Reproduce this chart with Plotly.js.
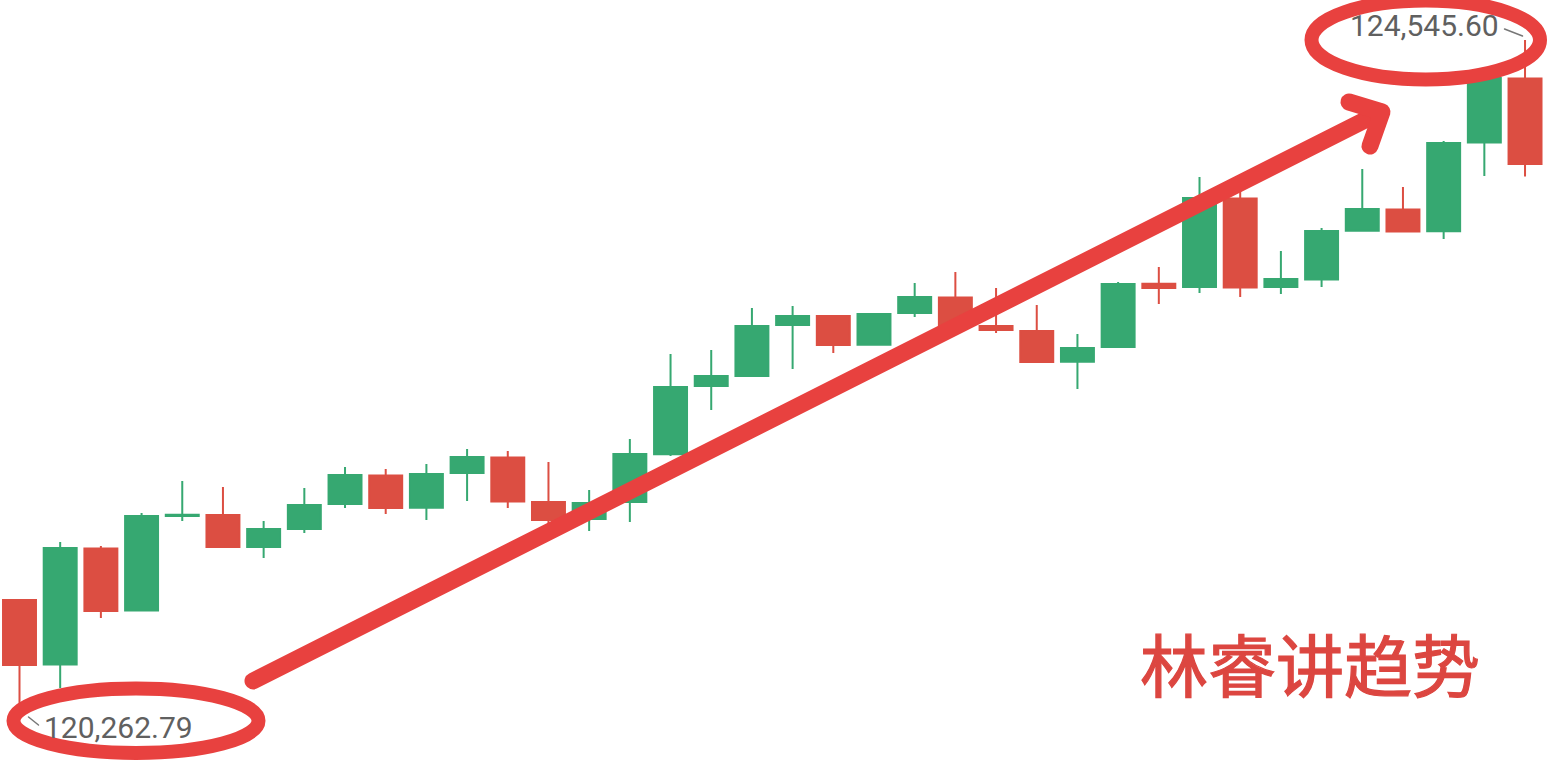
<!DOCTYPE html>
<html>
<head>
<meta charset="utf-8">
<script src="https://cdn.plot.ly/plotly-3.0.1.min.js"></script>
<style>
  html, body { margin: 0; padding: 0; background: #ffffff; }
  #chart { width: 1548px; height: 760px; }
</style>
</head>
<body>
<div id="chart"></div>
<script>
// ---- data ----
const bars  = [0,1,2,3,4,5,6,7,8,9,10,11,12,13,14,15,16,17,18,19,20,21,22,23,24,25,26,27,28,29,30,31,32,33,34,35,36,37,38];
const open  = [120977,120565,121305,120909,121512,121518,121314,121429,121588,121770,121565,121786,121885,121601,121493,121601,121905,122340,122404,122729,122787,122603,122806,122905,122723,122691,122495,122589,122992,122971,123536,122971,123020,123330,123466,123326,123892,124300,123762];
const high  = [120981,121346,121321,121531,121735,121697,121480,121690,121824,121812,121843,121939,121926,121856,121678,122003,122544,122570,122838,122850,122789,122806,122997,123067,122965,122857,122672,123003,123099,123672,123685,123201,123347,123723,123609,123902,124305,124545.60,123900];
const low   = [120262.79,120416,120862,120905,121480,121312,121244,121404,121563,121525,121486,121608,121563,121455,121416,121474,121894,122188,122402,122449,122551,122600,122780,122722,122678,122491,122321,122583,122863,122933,122908,122927,122971,123327,123322,123277,123679,123675,123700];
const close = [120562,121308,120907,121512,121520,121314,121429,121582,121773,121563,121780,121888,121605,121486,121595,121907,122334,122404,122723,122787,122602,122799,122908,122729,122697,122493,122583,122991,122965,123539,122969,123022,123328,123469,123325,123889,124303,123755,123876];
const watermark = '林睿讲趋势';

// ---- helpers ----
const W = 1548, H = 760;
const px = x => x / W;
const py = y => 1 - y / H;
const fmt = v => v.toLocaleString('en-US', {minimumFractionDigits: 2, maximumFractionDigits: 2});

let iLow = 0, iHigh = 0;
low.forEach((v, i) => { if (v < low[iLow]) iLow = i; });
high.forEach((v, i) => { if (v > high[iHigh]) iHigh = i; });

const GREEN = '#36a871';
const RED = '#dc4e42';
const MARK = '#e8413f';
const GRAY = '#606060';

const trace = {
  type: 'candlestick',
  x: bars, open: open, high: high, low: low, close: close,
  increasing: { line: { color: GREEN, width: 2 }, fillcolor: GREEN },
  decreasing: { line: { color: RED, width: 2 }, fillcolor: RED },
  whiskerwidth: 0,
  hoverinfo: 'skip',
  showlegend: false
};

const spacing = 40.69, c0 = 19.5;
const pxPerUnit = 6.3732;
const yTop = high[iHigh] + 40 * pxPerUnit;
const yBot = yTop - H * pxPerUnit;

const layout = {
  width: W, height: H,
  margin: { l: 0, r: 0, t: 0, b: 0, pad: 0 },
  paper_bgcolor: '#ffffff', plot_bgcolor: '#ffffff',
  boxgap: 0.19, boxgroupgap: 0,
  showlegend: false,
  xaxis: {
    range: [-c0 / spacing, (W - c0) / spacing],
    visible: false, showgrid: false, zeroline: false,
    rangeslider: { visible: false }, fixedrange: true
  },
  yaxis: {
    range: [yBot, yTop],
    visible: false, showgrid: false, zeroline: false, fixedrange: true
  },
  annotations: [
    {
      x: bars[iLow], y: low[iLow], xref: 'x', yref: 'y',
      text: fmt(low[iLow]), showarrow: false,
      xanchor: 'left', yanchor: 'middle', xshift: 22, yshift: -15,
      font: { family: 'Roboto, sans-serif', size: 30, color: GRAY }
    },
    {
      x: bars[iHigh], y: high[iHigh], xref: 'x', yref: 'y',
      text: fmt(high[iHigh]), showarrow: false,
      xanchor: 'right', yanchor: 'middle', xshift: -24, yshift: 15,
      font: { family: 'Roboto, sans-serif', size: 30, color: GRAY }
    },
    {
      x: px(1310), y: py(662), xref: 'paper', yref: 'paper',
      text: watermark, showarrow: false,
      xanchor: 'center', yanchor: 'middle',
      font: { family: '"Noto Sans CJK SC", sans-serif', size: 68, color: '#dc4640' }
    }
  ],
  shapes: [
    // leader lines from extreme points to their labels
    {
      type: 'line', xref: 'x', yref: 'y',
      xsizemode: 'pixel', ysizemode: 'pixel',
      xanchor: bars[iLow], yanchor: low[iLow],
      x0: 9, y0: -5, x1: 19, y1: -13,
      line: { color: '#777777', width: 1.5 }
    },
    {
      type: 'line', xref: 'x', yref: 'y',
      xsizemode: 'pixel', ysizemode: 'pixel',
      xanchor: bars[iHigh], yanchor: high[iHigh],
      x0: -20.5, y0: 11, x1: -2.5, y1: 4,
      line: { color: '#777777', width: 1.5 }
    },
    // hand-drawn style ellipses
    {
      type: 'circle', xref: 'paper', yref: 'paper',
      x0: px(13.5), x1: px(258.5), y0: py(753), y1: py(688.5),
      line: { color: MARK, width: 14 }, fillcolor: 'rgba(0,0,0,0)'
    },
    {
      type: 'circle', xref: 'paper', yref: 'paper',
      x0: px(1311.5), x1: px(1540), y0: py(79.5), y1: py(0.5),
      line: { color: MARK, width: 14 }, fillcolor: 'rgba(0,0,0,0)'
    },
    // trend arrow
    {
      type: 'path', xref: 'paper', yref: 'paper',
      path: `M ${px(253)} ${py(681)} L ${px(1381)} ${py(112)}`,
      line: { color: MARK, width: 17 }
    },
    {
      type: 'path', xref: 'paper', yref: 'paper',
      path: `M ${px(1349)} ${py(102)} L ${px(1382)} ${py(112)} L ${px(1370)} ${py(146)}`,
      line: { color: MARK, width: 17 }
    }
  ]
};

Plotly.newPlot('chart', [trace], layout, { staticPlot: true, displayModeBar: false }).then(() => {
  document.querySelectorAll('.shapelayer path').forEach(p => {
    p.style.strokeLinecap = 'round';
    p.style.strokeLinejoin = 'round';
  });
  document.querySelectorAll('.annotation-text').forEach(t => {
    if (t.textContent === watermark) {
      t.style.stroke = '#dc4640';
      t.style.strokeWidth = '1.2px';
      t.style.paintOrder = 'stroke';
    }
  });
});
</script>
</body>
</html>
